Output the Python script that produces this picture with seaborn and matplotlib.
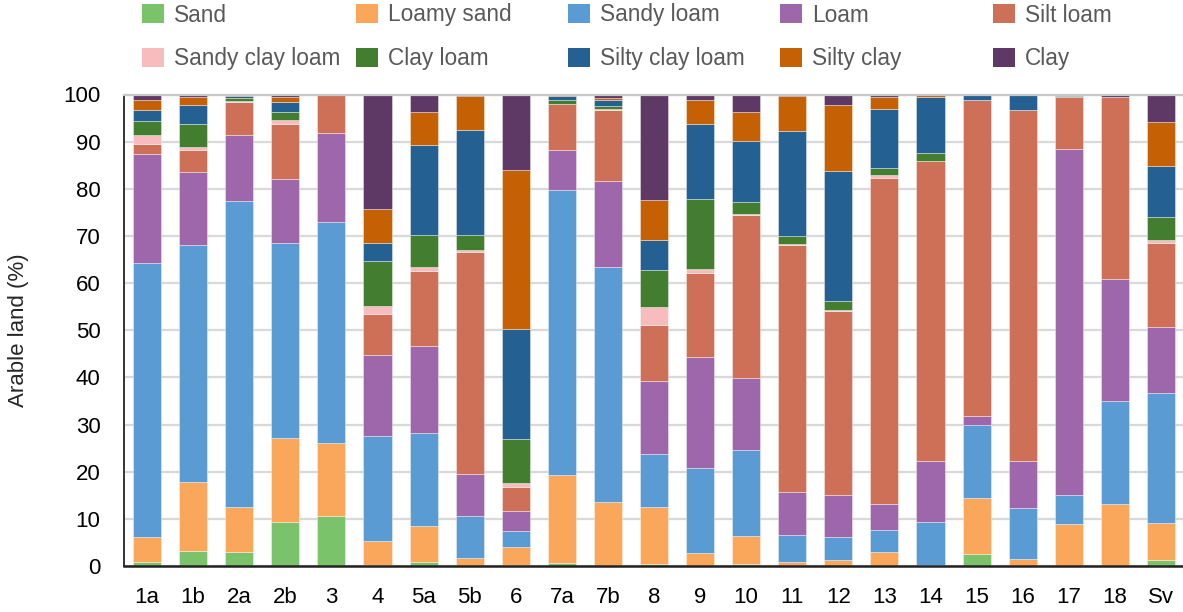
import numpy as np
import matplotlib.pyplot as plt
import seaborn as sns
from matplotlib.patches import Patch

regions = ['1a', '1b', '2a', '2b', '3', '4', '5a', '5b', '6', '7a', '7b', '8',
           '9', '10', '11', '12', '13', '14', '15', '16', '17', '18', 'Sv']

# share of arable land (%) per soil texture class, bottom to top
sand = [0.9, 3.2, 3.0, 9.3, 10.5, 0.2, 0.9, 0.1, 0.3, 0.7, 0.1, 0.4,
        0.1, 0.4, 0.0, 0.0, 0.0, 0.0, 2.6, 0.0, 0.0, 0.0, 1.3]
loamy_sand = [5.2, 14.7, 9.6, 17.9, 15.5, 5.1, 7.6, 1.5, 3.8, 18.6, 13.4, 12.1,
              2.6, 5.9, 0.8, 1.3, 2.9, 0.2, 11.9, 1.5, 8.9, 13.1, 7.8]
sandy_loam = [58.2, 50.1, 64.8, 41.2, 47.0, 22.2, 19.7, 9.0, 3.4, 60.5, 50.0, 11.2,
              18.1, 18.3, 5.7, 4.8, 4.7, 9.1, 15.4, 10.7, 6.1, 21.9, 27.6]
loam = [23.1, 15.6, 14.0, 13.6, 18.9, 17.2, 18.4, 9.0, 4.2, 8.4, 18.1, 15.6,
        23.6, 15.2, 9.1, 8.9, 5.6, 13.0, 2.0, 10.0, 73.5, 25.8, 14.0]
silt_loam = [2.2, 4.6, 7.1, 11.8, 7.9, 8.7, 16.0, 47.0, 5.1, 9.7, 15.1, 11.9,
             17.7, 34.6, 52.5, 39.1, 69.0, 63.6, 67.0, 74.5, 10.9, 38.7, 17.7]
sandy_clay_loam = [1.8, 0.7, 0.2, 0.7, 0.2, 1.8, 0.9, 0.4, 0.8, 0.1, 0.2, 3.7,
                   0.9, 0.3, 0.1, 0.2, 0.8, 0.1, 0.0, 0.0, 0.0, 0.0, 0.8]
clay_loam = [3.0, 4.9, 0.6, 1.8, 0.0, 9.5, 6.7, 3.1, 9.4, 0.8, 0.7, 7.9,
             14.9, 2.5, 1.7, 1.8, 1.5, 1.5, 0.0, 0.1, 0.3, 0.0, 4.8]
silty_clay_loam = [2.3, 3.9, 0.4, 2.1, 0.0, 3.9, 19.0, 22.4, 23.2, 0.9, 1.2, 6.3,
                   15.8, 13.0, 22.4, 27.6, 12.5, 11.9, 1.1, 3.3, 0.0, 0.0, 10.9]
silty_clay = [2.1, 1.7, 0.1, 1.1, 0.0, 7.2, 7.1, 7.2, 33.8, 0.2, 0.4, 8.5,
              5.1, 6.0, 7.3, 14.0, 2.4, 0.6, 0.0, 0.0, 0.0, 0.0, 9.3]
clay = [1.4, 0.6, 0.2, 0.5, 0.0, 24.2, 3.7, 0.4, 16.0, 0.1, 0.8, 22.4,
        1.2, 3.8, 0.4, 2.3, 0.6, 0.0, 0.0, 0.0, 0.3, 0.5, 5.8]

classes = ['Sand', 'Loamy sand', 'Sandy loam', 'Loam', 'Silt loam',
           'Sandy clay loam', 'Clay loam', 'Silty clay loam', 'Silty clay', 'Clay']
series = [sand, loamy_sand, sandy_loam, loam, silt_loam,
          sandy_clay_loam, clay_loam, silty_clay_loam, silty_clay, clay]
colors = ['#7AC36A', '#FAA75B', '#5A9BD4', '#9E66AB', '#CE7058',
          '#F9BCBE', '#437E30', '#246092', '#C66004', '#5E3966']

sns.set_style('white')
plt.rcParams['font.family'] = ['Liberation Sans', 'DejaVu Sans']

fig = plt.figure(figsize=(11.83, 6.12), dpi=100)
ax = fig.add_axes([124 / 1183, 46 / 612, 1060 / 1183, (566 - 94.5) / 612])

bottom = np.zeros(len(regions))
for name, vals, col in zip(classes, series, colors):
    sns.barplot(x=regions, y=vals, bottom=bottom, color=col, width=0.61,
                saturation=1, errorbar=None, ax=ax,
                edgecolor=(1, 1, 1, 0.45), linewidth=0.6)
    bottom += np.array(vals)

ax.set_xlim(-0.5, 22.5)
ax.set_ylim(0, 100)
ax.set_yticks(range(0, 101, 10))
ax.yaxis.grid(True, color='#d9d9d9', linewidth=1.6)
ax.set_axisbelow(True)
ax.tick_params(axis='both', length=0, labelsize=16, colors='black')
ax.tick_params(axis='y', pad=17)
ax.tick_params(axis='x', pad=15)
ax.set_xlabel('')
ax.set_ylabel('Arable land (%)', fontsize=16)
ax.yaxis.set_label_coords(-0.09, 0.5)

ax.spines['right'].set_visible(False)
ax.spines['top'].set_color('#c8c8c8')
ax.spines['top'].set_linewidth(1.6)
ax.spines['left'].set_color('#333333')
ax.spines['left'].set_linewidth(1.4)
ax.spines['bottom'].set_color('#222222')
ax.spines['bottom'].set_linewidth(1.8)

# legend: 5 equal-width columns, 2 rows
col_x = [142, 356, 568, 780, 993]
for i, x in enumerate(col_x):
    handles = [Patch(facecolor=colors[i], edgecolor='none'),
               Patch(facecolor=colors[i + 5], edgecolor='none')]
    fig.legend(handles, [classes[i], classes[i + 5]], loc='upper left',
               bbox_to_anchor=(x / 1183, 1 - 3.5 / 612), frameon=False,
               fontsize=16.3, labelcolor='#595959', handlelength=0.95,
               handleheight=0.95, handletextpad=0.45, labelspacing=0.92,
               borderpad=0, borderaxespad=0)

fig.savefig('out.png', dpi=100)
